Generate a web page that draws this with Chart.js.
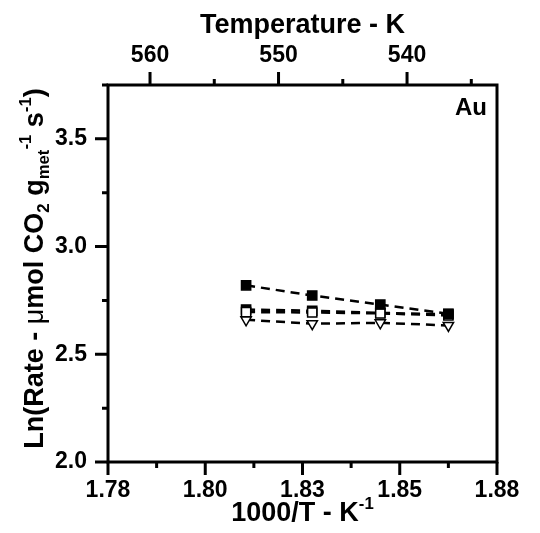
<!DOCTYPE html>
<html>
<head>
<meta charset="utf-8">
<script src="https://cdn.jsdelivr.net/npm/chart.js@4"></script>
<style>
html,body{margin:0;padding:0;background:#fff;}
#c{display:block;}
</style>
</head>
<body>
<canvas id="c" width="540" height="533"></canvas>
<script>
// ---- data ----
const xValues = [1.8155, 1.8325, 1.8500, 1.8675];           // 1000/T (K^-1)
const seriesA = [2.820, 2.773, 2.731, 2.688];               // filled squares (upper)
const seriesB = [2.708, 2.702, 2.692, 2.686];               // filled squares (middle)
const seriesC = [2.696, 2.694, 2.690, 2.680];               // open squares
const seriesD = [2.660, 2.642, 2.646, 2.634];               // open down-triangles

const xTickValues = [1.78, 1.7925, 1.805, 1.8175, 1.83, 1.8425, 1.855, 1.8675, 1.88];
const xTickLabels = ['1.78', '', '1.80', '', '1.83', '', '1.85', '', '1.88'];
const yTickValues = [2.0, 2.25, 2.5, 2.75, 3.0, 3.25, 3.5, 3.75];
const yTickLabels = ['2.0', '', '2.5', '', '3.0', '', '3.5', ''];
const tTickValues = [535, 540, 545, 550, 555, 560];
const tTickLabels = ['', '540', '', '550', '', '560'];

const FONT = "'Liberation Sans', Arial, sans-serif";

function pts(ys){ return xValues.map((x,i)=>({x:x, y:ys[i]})); }

function richWidth(ctx, segs, size){
  let w = 0;
  for (const s of segs){
    const fs = s.k === 'n' ? size : size*0.62;
    ctx.font = (s.f || 'bold') + ' ' + fs + 'px ' + FONT;
    s._w = ctx.measureText(s.t).width;
    w += s._w;
  }
  return w;
}
function drawRich(ctx, segs, size, cx, cy){
  const total = richWidth(ctx, segs, size);
  let x = cx - total/2;
  ctx.textBaseline = 'alphabetic';
  ctx.textAlign = 'left';
  ctx.fillStyle = '#000';
  for (const s of segs){
    const fs = s.k === 'n' ? size : size*0.62;
    ctx.font = (s.f || 'bold') + ' ' + fs + 'px ' + FONT;
    let dy = 0;
    if (s.k === 'sub') dy = size*0.22;
    if (s.k === 'sup') dy = -size*0.42;
    ctx.fillText(s.t, x, cy + size*0.36 + dy);
    x += s._w;
  }
}

const decor = {
  id: 'decor',
  afterDraw(chart){
    const ctx = chart.ctx, a = chart.chartArea;
    ctx.save();
    // frame
    ctx.strokeStyle = '#000';
    ctx.lineWidth = 3;
    ctx.strokeRect(a.left, a.top, a.right - a.left, a.bottom - a.top);
    // ticks
    ctx.lineCap = 'butt';
    const sx = chart.scales.x, sy = chart.scales.y, st = chart.scales.x2;
    ctx.beginPath();
    xTickValues.forEach((v,i)=>{
      const p = sx.getPixelForValue(v), L = xTickLabels[i] ? 13 : 6;
      ctx.moveTo(p, a.bottom); ctx.lineTo(p, a.bottom + L);
    });
    yTickValues.forEach((v,i)=>{
      const p = sy.getPixelForValue(v), L = yTickLabels[i] ? 13 : 6;
      ctx.moveTo(a.left, p); ctx.lineTo(a.left - L, p);
    });
    tTickValues.forEach((v,i)=>{
      const p = st.getPixelForValue(v), L = tTickLabels[i] ? 13 : 6;
      ctx.moveTo(p, a.top); ctx.lineTo(p, a.top - L);
    });
    ctx.stroke();
    // titles
    const cx = (a.left + a.right)/2;
    drawRich(ctx, [{t:'Temperature - K', k:'n'}], 27, cx, 23);
    drawRich(ctx, [{t:'1000/T - K', k:'n'}, {t:'-1', k:'sup'}], 27, cx, 511);
    ctx.save();
    ctx.translate(33, (a.top + a.bottom)/2 - 5);
    ctx.rotate(-Math.PI/2);
    drawRich(ctx, [
      {t:'Ln(Rate - ', k:'n'}, {t:'\u03bc', k:'n', f:'normal'}, {t:'mol CO', k:'n'},
      {t:'2', k:'sub'}, {t:' g', k:'n'}, {t:'met', k:'sub'}, {t:'-1', k:'sup'},
      {t:' s', k:'n'}, {t:'-1', k:'sup'}, {t:')', k:'n'}
    ], 27, 0, 0);
    ctx.restore();
    // panel label
    ctx.font = 'bold 24px ' + FONT;
    ctx.textAlign = 'right';
    ctx.textBaseline = 'middle';
    ctx.fillStyle = '#000';
    ctx.fillText('Au', a.right - 10, a.top + 23);
    ctx.restore();
  }
};

function ds(label, ys, style, fill, rot, radius){
  return {
    label: label, data: pts(ys), showLine: true,
    borderColor: '#000', borderWidth: 2.5, borderDash: [9, 6],
    pointStyle: style, pointRotation: rot, pointRadius: radius, pointHoverRadius: radius,
    pointBackgroundColor: fill, pointBorderColor: '#000', pointBorderWidth: 1.5,
    fill: false, tension: 0
  };
}

new Chart(document.getElementById('c'), {
  type: 'scatter',
  data: {
    datasets: [
      ds('A', seriesA, 'rect', '#000', 0, 6.5),
      ds('C', seriesC, 'rect', '#fff', 0, 6.5),
      ds('B', seriesB, 'rect', '#000', 0, 6.5),
      ds('D', seriesD, 'triangle', '#fff', 180, 6)
    ]
  },
  options: {
    responsive: false,
    animation: false,
    devicePixelRatio: 1,
    layout: { padding: { left: 0, right: 43, top: 0, bottom: 0 } },
    plugins: { legend: { display: false }, tooltip: { enabled: false }, title: { display: false } },
    scales: {
      x: {
        type: 'linear', position: 'bottom', min: 1.78, max: 1.88,
        grid: { display: false }, border: { display: false },
        afterBuildTicks: s => { s.ticks = xTickValues.map(v => ({value: v})); },
        afterFit: s => { s.height = 71; },
        ticks: { autoSkip: false, maxRotation: 0, padding: 7, color: '#000',
                 font: { family: FONT, size: 23, weight: 'bold' },
                 callback: (v, i) => xTickLabels[i] }
      },
      x2: {
        type: 'linear', position: 'top', reverse: true, min: 533.0, max: 563.27,
        grid: { display: false }, border: { display: false },
        afterBuildTicks: s => { s.ticks = tTickValues.map(v => ({value: v})); },
        afterFit: s => { s.height = 85; },
        ticks: { autoSkip: false, maxRotation: 0, padding: 8, color: '#000',
                 font: { family: FONT, size: 23, weight: 'bold' },
                 callback: (v, i) => tTickLabels[i] }
      },
      y: {
        type: 'linear', position: 'left', min: 2.0, max: 3.75,
        grid: { display: false }, border: { display: false },
        afterBuildTicks: s => { s.ticks = yTickValues.map(v => ({value: v})); },
        afterFit: s => { s.width = 108; },
        ticks: { autoSkip: false, padding: 13, color: '#000',
                 font: { family: FONT, size: 23, weight: 'bold' },
                 callback: (v, i) => yTickLabels[i] }
      }
    }
  },
  plugins: [decor]
});
</script>
</body>
</html>
